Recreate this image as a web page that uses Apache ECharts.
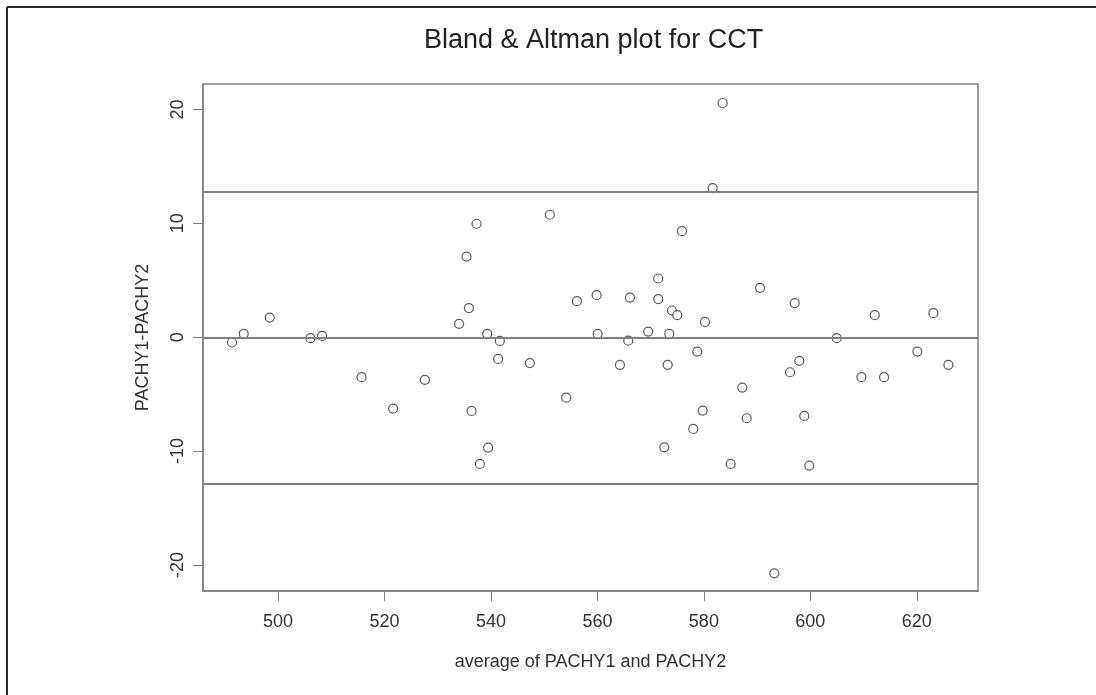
<!DOCTYPE html>
<html>
<head>
<meta charset="utf-8">
<script src="https://cdn.jsdelivr.net/npm/echarts@6/dist/echarts.min.js"></script>
<style>
html, body { margin: 0; padding: 0; background: #fff; }
#chart { width: 1096px; height: 695px; }
</style>
</head>
<body>
<div id="chart"></div>
<script>
// average of the two readings
var avgValues = [491.35, 493.55, 498.44, 506.09, 508.27, 515.68, 521.62, 527.58, 534.02, 535.41,
    535.85, 536.35, 537.29, 537.91, 539.29, 539.47, 541.35, 541.67, 547.31, 551.07,
    554.14, 556.15, 559.85, 560.04, 564.23, 565.79, 566.11, 569.55, 571.43, 571.43,
    572.56, 573.2, 573.5, 574.0, 575.0, 575.88, 578.01, 578.76, 579.77, 580.2,
    581.65, 583.53, 585.03, 587.22, 588.05, 590.55, 593.23, 596.18, 597.07, 597.93,
    598.87, 599.81, 604.96, 609.59, 612.11, 613.85, 620.11, 623.12, 625.94];
// difference PACHY1-PACHY2
var diffValues = [-0.47, 0.29, 1.72, -0.09, 0.11, -3.51, -6.27, -3.75, 1.17, 7.08,
    2.55, -6.48, 9.96, -11.13, 0.29, -9.7, -1.91, -0.33, -2.28, 10.75,
    -5.31, 3.16, 3.69, 0.29, -2.43, -0.31, 3.48, 0.49, 5.15, 3.34,
    -9.67, -2.43, 0.29, 2.34, 1.93, 9.31, -8.06, -1.27, -6.45, 1.34,
    13.09, 20.56, -11.13, -4.43, -7.12, 4.33, -20.74, -3.08, 2.99, -2.08,
    -6.92, -11.28, -0.09, -3.51, 1.93, -3.51, -1.27, 2.11, -2.43];
// upper limit, mean, lower limit
var limitLines = [12.77, -0.04, -12.86];
var xTicks = [500, 520, 540, 560, 580, 600, 620];
var yTicks = [-20, -10, 0, 10, 20];

var points = avgValues.map(function (v, i) { return [v, diffValues[i]]; });

var axisColor = '#808080';
var textColor = '#333';
var fontName = '"Liberation Sans", Arial, sans-serif';

var option = {
    backgroundColor: '#fff',
    animation: false,
    title: {
        text: 'Bland & Altman plot for CCT',
        left: 419,
        top: 22,
        textStyle: {
            fontFamily: fontName,
            fontSize: 27,
            fontWeight: 'normal',
            color: '#222'
        }
    },
    graphic: [
        { type: 'line', shape: { x1: 7, y1: 7, x2: 1096, y2: 7 }, style: { stroke: '#2a2a2a', lineWidth: 2 } },
        { type: 'line', shape: { x1: 7, y1: 7, x2: 7, y2: 695 }, style: { stroke: '#2a2a2a', lineWidth: 2 } }
    ],
    grid: {
        left: 203,
        top: 84,
        width: 775,
        height: 507,
        show: true,
        borderColor: axisColor,
        borderWidth: 1.5,
        containLabel: false
    },
    xAxis: {
        type: 'value',
        min: 485.9,
        max: 631.5,
        name: 'average of PACHY1 and PACHY2',
        nameLocation: 'middle',
        nameGap: 62,
        nameTextStyle: { fontFamily: fontName, fontSize: 18, color: textColor },
        splitLine: { show: false },
        axisLine: { show: true, onZero: false, lineStyle: { color: axisColor, width: 1.5 } },
        axisTick: { show: true, length: 10, lineStyle: { color: axisColor }, customValues: xTicks },
        axisLabel: { fontFamily: fontName, fontSize: 18, color: textColor, margin: 22, customValues: xTicks }
    },
    yAxis: {
        type: 'value',
        min: -22.29,
        max: 22.23,
        name: 'PACHY1-PACHY2',
        nameLocation: 'middle',
        nameGap: 51,
        nameRotate: 90,
        nameTextStyle: { fontFamily: fontName, fontSize: 18, color: textColor },
        splitLine: { show: false },
        axisLine: { show: true, onZero: false, lineStyle: { color: axisColor, width: 1.5 } },
        axisTick: { show: true, length: 10, lineStyle: { color: axisColor }, customValues: yTicks },
        axisLabel: { fontFamily: fontName, fontSize: 18, color: textColor, margin: 16, rotate: 90, customValues: yTicks }
    },
    series: [
        {
            type: 'scatter',
            data: points,
            symbol: 'circle',
            symbolSize: 9,
            itemStyle: { color: '#fff', borderColor: '#333', borderWidth: 1.2 },
            markLine: {
                silent: true,
                symbol: 'none',
                label: { show: false },
                lineStyle: { color: axisColor, width: 2, type: 'solid' },
                data: limitLines.map(function (v) { return { yAxis: v }; })
            }
        }
    ]
};
var myChart = echarts.init(document.getElementById('chart'));
myChart.setOption(option);
</script>
</body>
</html>
